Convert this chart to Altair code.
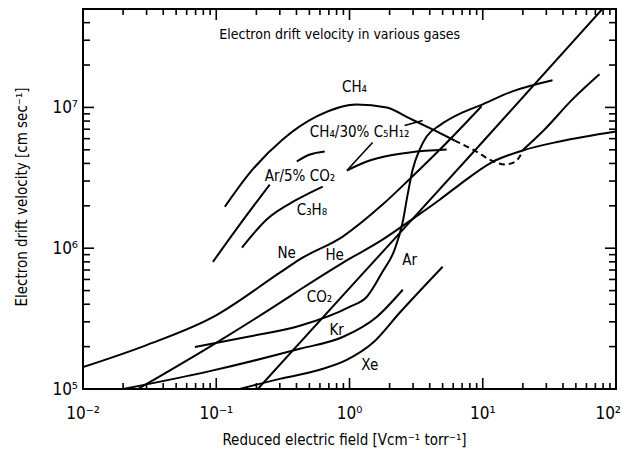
import altair as alt
import pandas as pd

# ---- curve data (reduced field [V/cm/torr], drift velocity [cm/s]) ----
ne_x = [0.01, 0.03, 0.095, 0.3, 0.42, 0.89, 1.77, 2.83, 4.75, 9.8]
ne_y = [1.43e5, 2.05e5, 3.25e5, 6.7e5, 8.3e5, 1.21e6, 2.04e6, 3.1e6, 5.0e6, 1.02e7]

he_x = [0.0258, 0.0944, 0.30, 0.424, 0.889, 1.77, 3.08, 4.75, 6.7, 11.6, 19.9, 37.7, 100]
he_y = [1.0e5, 2.06e5, 4.09e5, 5.07e5, 7.88e5, 1.15e6, 1.65e6, 2.21e6, 2.83e6, 4.06e6, 4.94e6, 5.73e6, 6.75e6]

ar_x = [0.0692, 0.169, 0.424, 1.0, 1.35, 1.77, 2.18, 2.51, 2.73, 2.98, 3.36, 3.79, 4.75, 7.06, 9.47, 16.7, 33.4]
ar_y = [1.99e5, 2.34e5, 2.81e5, 3.83e5, 4.52e5, 6.81e5, 9.76e5, 1.54e6, 2.4e6, 3.62e6, 5.02e6, 6.22e6, 7.45e6, 9.21e6, 1.03e7, 1.3e7, 1.56e7]

kr_x = [0.020, 0.0895, 0.424, 0.889, 1.60, 2.51]
kr_y = [1.0e5, 1.34e5, 1.93e5, 2.34e5, 3.25e5, 5.07e5]

xe_x = [0.150, 0.300, 0.598, 0.953, 1.49, 2.38, 5.0]
xe_y = [1.0e5, 1.18e5, 1.37e5, 1.61e5, 2.12e5, 3.48e5, 7.38e5]

co2_x = [0.205, 1.0, 10.0, 79.0]
co2_y = [1.0e5, 5.2e5, 5.7e6, 5.0e7]

c3h8_x = [0.156, 0.239, 0.402, 0.630]
c3h8_y = [1.01e6, 1.60e6, 2.21e6, 2.74e6]

mix_x = [0.953, 1.35, 1.84, 2.83, 5.36]
mix_y = [3.56e6, 4.13e6, 4.48e6, 4.79e6, 5.02e6]

arco2_a_x = [0.0944, 0.150, 0.252]
arco2_a_y = [8.0e5, 1.47e6, 2.83e6]
arco2_b_x = [0.402, 0.504, 0.652]
arco2_b_y = [4.13e6, 4.63e6, 4.87e6]

ch4_a_x = [0.116, 0.179, 0.315, 0.567, 1.13, 1.90, 2.83, 4.35, 6.15]
ch4_a_y = [1.97e6, 3.44e6, 5.92e6, 8.63e6, 1.05e7, 1.0e7, 8.35e6, 6.86e6, 5.82e6]
ch4_d_x = [6.15, 8.69, 11.6, 14.6, 17.6, 20.2]
ch4_d_y = [5.82e6, 4.94e6, 4.20e6, 3.93e6, 4.13e6, 5.02e6]
ch4_b_x = [20.2, 29.1, 47.1, 75.1]
ch4_b_y = [5.02e6, 6.97e6, 1.14e7, 1.72e7]

lead1_x = [1.49, 0.971]
lead1_y = [5.64e6, 3.62e6]
lead2_x = [2.59, 3.54]
lead2_y = [7.45e6, 8.07e6]

# ---- labels ----
lab_text = ["CH₄", "Ne", "He", "Kr", "Ar", "Xe"]
lab_x = [1.09, 0.338, 0.774, 0.80, 2.83, 1.42]
lab_y = [1.39e7, 9.29e5, 8.99e5, 2.63e5, 8.28e5, 1.48e5]

llab_text = ["CH₄/30% C₅H₁₂", "Ar/5% CO₂", "C₃H₈", "CO₂"]
llab_x = [0.504, 0.231, 0.402, 0.478]
llab_y = [6.64e6, 3.28e6, 1.88e6, 4.52e5]

title_text = ["Electron drift velocity in various gases"]
title_x = [0.844]
title_y = [3.25e7]

x_title = ["Reduced electric field [Vcm⁻¹ torr⁻¹]"]
y_title = ["Electron drift velocity [cm sec⁻¹]"]

# ---- axis tick values and labels ----
x_major = [0.01, 0.1, 1, 10, 100]
x_major_lab = ["10⁻²", "10⁻¹", "10⁰", "10¹", "10²"]
x_minor = [m * d for d in [0.01, 0.1, 1, 10] for m in range(2, 10)]
y_major = [1e5, 1e6, 1e7]
y_major_lab = ["10⁵", "10⁶", "10⁷"]
y_minor = [m * d for d in [1e5, 1e6] for m in range(2, 10)] + [2e7, 3e7, 4e7]

FONT = "DejaVu Sans Condensed, Liberation Sans Narrow, Liberation Sans, sans-serif"
FS = 15
W, H = 533, 380

rows = []
def add(key, xs_, ys_, style):
    for i, (a, b) in enumerate(zip(xs_, ys_)):
        rows.append({"key": key, "i": i, "x": a, "y": b, "style": style})

add("Ne", ne_x, ne_y, "solid")
add("He", he_x, he_y, "solid")
add("Ar", ar_x, ar_y, "solid")
add("Kr", kr_x, kr_y, "solid")
add("Xe", xe_x, xe_y, "solid")
add("CO2", co2_x, co2_y, "solid")
add("C3H8", c3h8_x, c3h8_y, "solid")
add("CH4/C5H12", mix_x, mix_y, "solid")
add("ArCO2a", arco2_a_x, arco2_a_y, "solid")
add("ArCO2b", arco2_b_x, arco2_b_y, "solid")
add("CH4a", ch4_a_x, ch4_a_y, "solid")
add("CH4b", ch4_b_x, ch4_b_y, "solid")
add("CH4d", ch4_d_x, ch4_d_y, "dash")
df = pd.DataFrame(rows)

lead_rows = []
for k, (xs_, ys_) in enumerate([(lead1_x, lead1_y), (lead2_x, lead2_y)]):
    for i, (a, b) in enumerate(zip(xs_, ys_)):
        lead_rows.append({"key": f"L{k}", "i": i, "x": a, "y": b})
dlead = pd.DataFrame(lead_rows)

xs = alt.Scale(type="log", domain=[0.01, 100], nice=False)
ys = alt.Scale(type="log", domain=[1e5, 5e7], nice=False)
X = lambda f="x": alt.X(f"{f}:Q", scale=xs, axis=None)
Y = lambda f="y": alt.Y(f"{f}:Q", scale=ys, axis=None)

solid = alt.Chart(df).transform_filter("datum.style == 'solid'").mark_line(
    color="black", strokeWidth=2, interpolate="monotone", clip=True
).encode(x=X(), y=Y(), detail="key:N", order="i:Q")
dash = alt.Chart(df).transform_filter("datum.style == 'dash'").mark_line(
    color="black", strokeWidth=2, interpolate="monotone", strokeDash=[6, 4], clip=True
).encode(x=X(), y=Y(), detail="key:N", order="i:Q")
leads = alt.Chart(dlead).mark_line(color="black", strokeWidth=1.6).encode(
    x=X(), y=Y(), detail="key:N", order="i:Q")

labs = alt.Chart(pd.DataFrame({"t": lab_text, "x": lab_x, "y": lab_y})).mark_text(
    font=FONT, fontSize=FS, color="black", align="center", baseline="middle"
).encode(x=X(), y=Y(), text="t:N")
llabs = alt.Chart(pd.DataFrame({"t": llab_text, "x": llab_x, "y": llab_y})).mark_text(
    font=FONT, fontSize=FS, color="black", align="left", baseline="middle"
).encode(x=X(), y=Y(), text="t:N")
tlab = alt.Chart(pd.DataFrame({"t": title_text, "x": title_x, "y": title_y})).mark_text(
    font=FONT, fontSize=14, color="black", align="center", baseline="middle"
).encode(x=X(), y=Y(), text="t:N")

# tick labels through the scales
xlab_df = pd.DataFrame({"x": x_major, "t": x_major_lab})
xlab = alt.Chart(xlab_df).transform_filter("datum.x < 50").mark_text(
    font=FONT, fontSize=17, color="black", align="center", baseline="middle"
).encode(x=X(), y=alt.value(H + 25), text="t:N")
xlab_last = alt.Chart(xlab_df).transform_filter("datum.x > 50").mark_text(
    font=FONT, fontSize=17, color="black", align="right", baseline="middle", dx=5
).encode(x=X(), y=alt.value(H + 25), text="t:N")
ylab = alt.Chart(pd.DataFrame({"y": y_major, "t": y_major_lab})).mark_text(
    font=FONT, fontSize=17, color="black", align="right", baseline="middle", dy=1
).encode(y=Y(), x=alt.value(-5), text="t:N")

# axis titles
xtit = alt.Chart(pd.DataFrame({"t": x_title})).mark_text(
    font=FONT, fontSize=FS, color="black", align="center", baseline="middle"
).encode(x=alt.value(W / 2 - 5), y=alt.value(H + 51), text="t:N")
ytit = alt.Chart(pd.DataFrame({"t": y_title})).mark_text(
    font=FONT, fontSize=FS, color="black", align="center", baseline="middle", angle=270
).encode(x=alt.value(-61), y=alt.value(H / 2 - 2), text="t:N")

def xticks(vals, y0, y1):
    return alt.Chart(pd.DataFrame({"x": vals})).mark_rule(color="black", strokeWidth=1.6).encode(
        x=X(), y=alt.value(y0), y2=alt.value(y1))

def yticks(vals, x0, x1):
    return alt.Chart(pd.DataFrame({"y": vals})).mark_rule(color="black", strokeWidth=1.6).encode(
        y=Y(), x=alt.value(x0), x2=alt.value(x1))

ticks = [
    xticks(x_major, H, H - 11), xticks(x_minor, H, H - 6),
    xticks(x_major, 0, 11), xticks(x_minor, 0, 6),
    yticks(y_major, 0, 11), yticks(y_minor, 0, 7),
    yticks(y_major, W, W - 11), yticks(y_minor, W, W - 7),
]

chart = alt.layer(solid, dash, leads, labs, llabs, tlab, xlab, xlab_last, ylab, xtit, ytit, *ticks).properties(
    width=W, height=H,
    background="white",
    autosize=alt.AutoSizeParams(type="none"),
    padding={"left": 83, "top": 9, "right": 6, "bottom": 70},
).configure_view(stroke="black", strokeWidth=2)

chart.save("out.html", embed_options={"renderer": "svg", "actions": False})
